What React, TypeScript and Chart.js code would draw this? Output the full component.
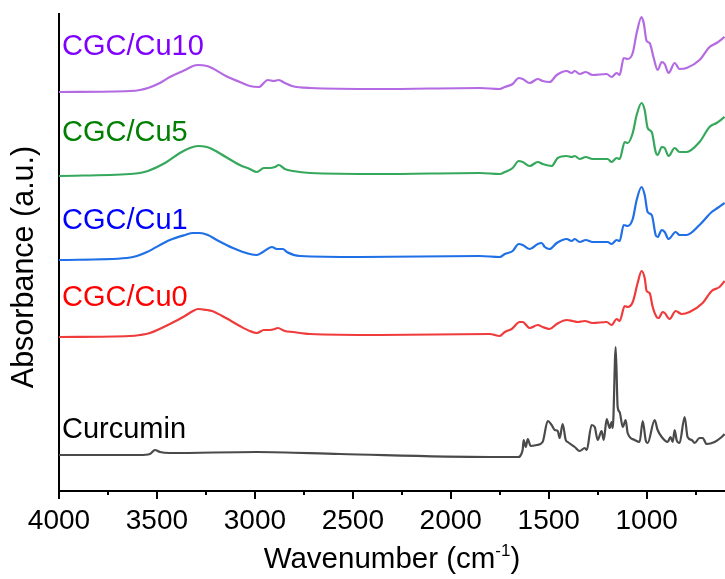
import React, { useEffect, useRef } from 'react';
import { Chart, registerables } from 'chart.js';

Chart.register(...registerables);

const FONT = '"Liberation Sans", Arial, Helvetica, sans-serif';

// Wavenumber (cm-1) and absorbance (a.u., stacked/offset)
const CU10_WN = [4000, 3638, 3587, 3546, 3485, 3434, 3357, 3316, 3291, 3245, 3219, 3148, 3077, 3026, 2980, 2934, 2903, 2878, 2847, 2811, 2719, 2362, 1852, 1750, 1724, 1684, 1653, 1633, 1597, 1556, 1531, 1495, 1459, 1408, 1383, 1367, 1342, 1311, 1276, 1204, 1179, 1153, 1138, 1117, 1097, 1071, 1051, 1026, 1015, 1000, 985, 964, 944, 923, 908, 888, 857, 832, 796, 730, 679, 643, 602];
const CU10_ABS = [3.99, 4.0, 4.01, 4.03, 4.08, 4.14, 4.21, 4.25, 4.26, 4.25, 4.23, 4.15, 4.09, 4.05, 4.04, 4.11, 4.1, 4.11, 4.08, 4.05, 4.03, 4.02, 4.03, 4.02, 4.04, 4.07, 4.13, 4.12, 4.08, 4.12, 4.1, 4.09, 4.16, 4.2, 4.18, 4.2, 4.17, 4.19, 4.16, 4.17, 4.14, 4.18, 4.16, 4.33, 4.32, 4.38, 4.58, 4.74, 4.68, 4.5, 4.48, 4.33, 4.21, 4.29, 4.27, 4.18, 4.28, 4.22, 4.23, 4.31, 4.44, 4.48, 4.54];

const CU5_WN = [4000, 3638, 3587, 3546, 3459, 3383, 3332, 3291, 3245, 3219, 3148, 3077, 3026, 2990, 2954, 2923, 2898, 2878, 2847, 2806, 2719, 2362, 1852, 1750, 1724, 1684, 1653, 1633, 1597, 1556, 1531, 1485, 1454, 1408, 1383, 1367, 1342, 1311, 1276, 1199, 1179, 1153, 1138, 1112, 1097, 1071, 1051, 1026, 1010, 995, 974, 954, 944, 923, 908, 888, 857, 832, 796, 730, 679, 643, 602];
const CU5_ABS = [3.15, 3.17, 3.18, 3.2, 3.28, 3.38, 3.43, 3.45, 3.44, 3.42, 3.34, 3.26, 3.22, 3.19, 3.23, 3.23, 3.24, 3.26, 3.22, 3.2, 3.18, 3.17, 3.18, 3.17, 3.19, 3.23, 3.3, 3.29, 3.25, 3.29, 3.27, 3.25, 3.33, 3.35, 3.34, 3.35, 3.32, 3.34, 3.32, 3.32, 3.29, 3.33, 3.32, 3.49, 3.48, 3.58, 3.76, 3.88, 3.81, 3.63, 3.59, 3.39, 3.36, 3.44, 3.43, 3.35, 3.43, 3.39, 3.39, 3.49, 3.64, 3.68, 3.74];

const CU1_WN = [4000, 3653, 3602, 3551, 3434, 3357, 3316, 3281, 3240, 3194, 3112, 3026, 2990, 2959, 2913, 2888, 2857, 2837, 2770, 2464, 1852, 1750, 1724, 1684, 1653, 1633, 1597, 1556, 1536, 1520, 1495, 1459, 1408, 1383, 1367, 1342, 1311, 1276, 1199, 1179, 1153, 1138, 1117, 1097, 1071, 1051, 1026, 1010, 995, 974, 954, 944, 923, 908, 888, 852, 832, 796, 730, 668, 638, 602];
const CU1_ABS = [2.31, 2.33, 2.35, 2.39, 2.51, 2.56, 2.58, 2.58, 2.56, 2.51, 2.43, 2.37, 2.36, 2.39, 2.44, 2.42, 2.42, 2.39, 2.35, 2.34, 2.35, 2.34, 2.37, 2.4, 2.47, 2.46, 2.42, 2.47, 2.48, 2.44, 2.42, 2.48, 2.52, 2.5, 2.52, 2.49, 2.51, 2.49, 2.49, 2.47, 2.51, 2.5, 2.66, 2.65, 2.72, 2.91, 3.04, 2.96, 2.79, 2.76, 2.56, 2.54, 2.61, 2.59, 2.52, 2.59, 2.56, 2.56, 2.66, 2.79, 2.83, 2.88];

const CU0_WN = [4000, 3638, 3587, 3536, 3434, 3357, 3316, 3291, 3245, 3219, 3148, 3077, 3026, 2990, 2954, 2923, 2898, 2883, 2847, 2806, 2719, 2362, 1801, 1750, 1724, 1689, 1648, 1633, 1597, 1556, 1531, 1495, 1459, 1408, 1378, 1352, 1316, 1276, 1204, 1179, 1153, 1138, 1112, 1097, 1071, 1046, 1026, 1010, 1000, 985, 969, 949, 939, 918, 908, 883, 852, 821, 781, 714, 668, 628, 602];
const CU0_ABS = [1.54, 1.55, 1.56, 1.58, 1.67, 1.75, 1.8, 1.82, 1.81, 1.8, 1.73, 1.65, 1.6, 1.58, 1.61, 1.61, 1.62, 1.63, 1.6, 1.59, 1.57, 1.56, 1.57, 1.55, 1.59, 1.62, 1.69, 1.69, 1.63, 1.66, 1.64, 1.62, 1.67, 1.71, 1.7, 1.69, 1.7, 1.68, 1.69, 1.66, 1.72, 1.7, 1.85, 1.84, 1.89, 2.08, 2.2, 2.13, 2.0, 1.98, 1.84, 1.74, 1.73, 1.79, 1.78, 1.72, 1.8, 1.77, 1.79, 1.88, 2.0, 2.04, 2.1];

const CUR_WN = [4000, 3587, 3536, 3510, 3485, 3434, 2990, 2566, 1801, 1658, 1633, 1628, 1617, 1607, 1592, 1561, 1531, 1505, 1485, 1469, 1454, 1444, 1429, 1413, 1403, 1367, 1342, 1316, 1306, 1281, 1265, 1250, 1230, 1219, 1204, 1189, 1179, 1173, 1158, 1148, 1138, 1122, 1107, 1097, 1061, 1036, 1020, 1005, 995, 959, 944, 923, 893, 878, 867, 857, 847, 832, 806, 791, 770, 755, 730, 714, 694, 653, 617, 602];
const CUR_ABS = [0.36, 0.36, 0.37, 0.41, 0.39, 0.38, 0.39, 0.37, 0.34, 0.34, 0.41, 0.51, 0.44, 0.52, 0.45, 0.46, 0.49, 0.7, 0.66, 0.61, 0.6, 0.53, 0.67, 0.51, 0.49, 0.44, 0.4, 0.43, 0.41, 0.66, 0.64, 0.51, 0.6, 0.51, 0.72, 0.63, 0.69, 0.63, 1.44, 0.84, 0.79, 0.64, 0.71, 0.58, 0.51, 0.49, 0.7, 0.51, 0.48, 0.71, 0.61, 0.54, 0.49, 0.54, 0.49, 0.61, 0.51, 0.48, 0.74, 0.54, 0.51, 0.48, 0.53, 0.53, 0.47, 0.49, 0.54, 0.57];

const SERIES_NAMES = ['CGC/Cu10', 'CGC/Cu5', 'CGC/Cu1', 'CGC/Cu0', 'Curcumin'];
const LINE_COLORS = ['#b36ae2', '#36a85c', '#1f6fe6', '#ef3b3b', '#4a4a4a'];
const LABEL_COLORS = ['#8000ff', '#008000', '#0000ff', '#ff0000', '#000000'];
const LABEL_BASELINES = [55, 141, 229, 306, 438];

const X_MAJOR_TICKS = [4000, 3500, 3000, 2500, 2000, 1500, 1000];
const X_MINOR_TICKS = [3750, 3250, 2750, 2250, 1750, 1250, 750];
const X_MIN = 600;
const X_MAX = 4000;
const Y_MIN = 0;
const Y_MAX = 4.77;

const X_TITLE = 'Wavenumber (cm';
const X_TITLE_SUP = '-1';
const X_TITLE_END = ')';
const Y_TITLE = 'Absorbance (a.u.)';

const decorPlugin = {
  id: 'decor',
  afterDraw(chart: any) {
    const { ctx, chartArea, scales } = chart;
    const xs = scales.x;
    ctx.save();
    ctx.strokeStyle = '#000';
    ctx.lineWidth = 2;
    const b = chartArea.bottom;
    X_MAJOR_TICKS.forEach((v) => {
      const px = Math.round(xs.getPixelForValue(v));
      ctx.beginPath();
      ctx.moveTo(px, b);
      ctx.lineTo(px, b + 8);
      ctx.stroke();
    });
    X_MINOR_TICKS.forEach((v) => {
      const px = Math.round(xs.getPixelForValue(v));
      ctx.beginPath();
      ctx.moveTo(px, b);
      ctx.lineTo(px, b + 4);
      ctx.stroke();
    });
    ctx.font = `29px ${FONT}`;
    ctx.textBaseline = 'alphabetic';
    ctx.textAlign = 'left';
    SERIES_NAMES.forEach((name, i) => {
      ctx.fillStyle = LABEL_COLORS[i];
      ctx.fillText(name, chartArea.left + 3, LABEL_BASELINES[i]);
    });
    ctx.fillStyle = '#000';
    const mainFont = `29.5px ${FONT}`;
    const supFont = `17px ${FONT}`;
    ctx.font = mainFont;
    const w1 = ctx.measureText(X_TITLE).width;
    const w3 = ctx.measureText(X_TITLE_END).width;
    ctx.font = supFont;
    const w2 = ctx.measureText(X_TITLE_SUP).width;
    const total = w1 + w2 + w3;
    const x0 = (chartArea.left + chartArea.right) / 2 - total / 2;
    const by = 568;
    ctx.font = mainFont;
    ctx.fillText(X_TITLE, x0, by);
    ctx.font = supFont;
    ctx.fillText(X_TITLE_SUP, x0 + w1, by - 12);
    ctx.font = mainFont;
    ctx.fillText(X_TITLE_END, x0 + w1 + w2, by);
    ctx.font = `30.5px ${FONT}`;
    ctx.translate(33, 267);
    ctx.rotate(-Math.PI / 2);
    ctx.textAlign = 'center';
    ctx.fillText(Y_TITLE, 0, 0);
    ctx.restore();
  },
};

export default function App() {
  const ref = useRef<HTMLCanvasElement>(null);
  useEffect(() => {
    document.body.style.margin = '0';
    const mk = (wn: number[], ab: number[]) => wn.map((w, i) => ({ x: w, y: ab[i] }));
    const seriesData = [
      mk(CU10_WN, CU10_ABS),
      mk(CU5_WN, CU5_ABS),
      mk(CU1_WN, CU1_ABS),
      mk(CU0_WN, CU0_ABS),
      mk(CUR_WN, CUR_ABS),
    ];
    const chart = new Chart(ref.current as HTMLCanvasElement, {
      type: 'line',
      data: {
        datasets: seriesData.map((d, i) => ({
          label: SERIES_NAMES[i],
          data: d,
          borderColor: LINE_COLORS[i],
          backgroundColor: LINE_COLORS[i],
          borderWidth: 2.2,
          pointRadius: 0,
          cubicInterpolationMode: 'monotone',
          fill: false,
        })),
      },
      options: {
        animation: false,
        responsive: false,
        maintainAspectRatio: false,
        layout: { padding: { top: 14, right: 0, left: 0, bottom: 0 } },
        plugins: { legend: { display: false }, tooltip: { enabled: false } },
        scales: {
          x: {
            type: 'linear',
            min: X_MIN,
            max: X_MAX,
            reverse: true,
            afterFit: (s: any) => {
              s.height = 88;
            },
            afterBuildTicks: (s: any) => {
              s.ticks = X_MAJOR_TICKS.map((v) => ({ value: v }));
            },
            grid: { display: false, drawTicks: false },
            border: { display: true, color: '#000', width: 2 },
            ticks: {
              font: { family: FONT, size: 28 },
              color: '#000',
              padding: 13,
              maxRotation: 0,
              autoSkip: false,
              callback: (v: any) => String(v),
            },
          },
          y: {
            type: 'linear',
            min: Y_MIN,
            max: Y_MAX,
            afterFit: (s: any) => {
              s.width = 59;
            },
            ticks: { display: false },
            grid: { display: false, drawTicks: false },
            border: { display: true, color: '#000', width: 2 },
          },
        },
      },
      plugins: [decorPlugin],
    });
    return () => chart.destroy();
  }, []);
  return <canvas ref={ref} width={725} height={579} style={{ display: 'block' }} />;
}
